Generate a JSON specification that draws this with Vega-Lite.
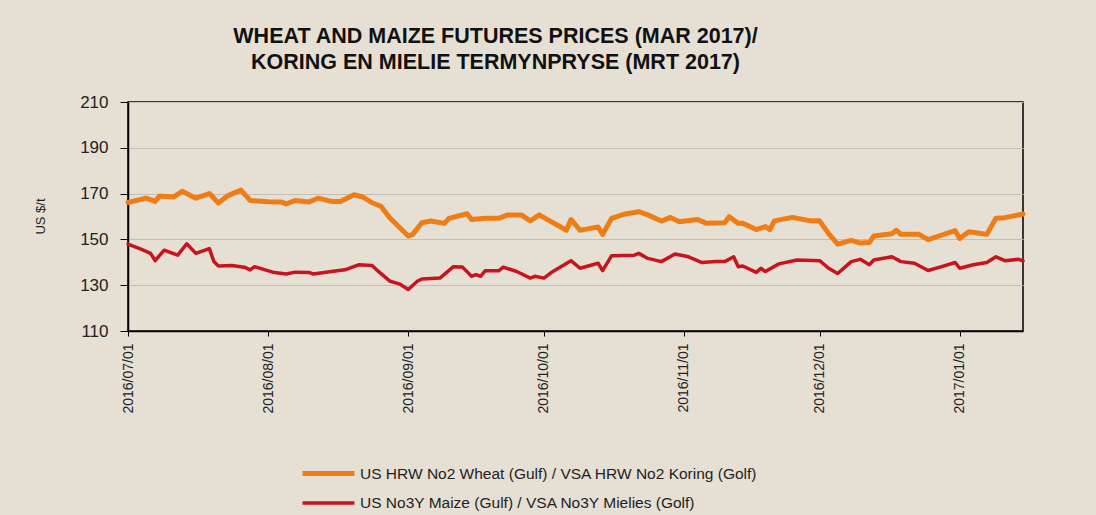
{
  "$schema": "https://vega.github.io/schema/vega-lite/v6.json",
  "width": 895,
  "height": 229,
  "autosize": {"type": "none"},
  "padding": {"left": 128, "top": 102, "right": 73, "bottom": 184},
  "background": "#e6e0d4",
  "title": {
    "text": ["WHEAT AND MAIZE FUTURES PRICES (MAR 2017)/", "KORING EN MIELIE TERMYNPRYSE  (MRT 2017)"],
    "font": "Liberation Sans",
    "fontSize": 21.5,
    "fontWeight": "bold",
    "color": "#111111",
    "anchor": "middle",
    "dx": -80,
    "offset": 20,
    "lineHeight": 26
  },
  "data": {
    "values": [
      {"series": "wheat", "date": "2016-07-01", "price": 166.1},
      {"series": "wheat", "date": "2016-07-05", "price": 168},
      {"series": "wheat", "date": "2016-07-07", "price": 166.6},
      {"series": "wheat", "date": "2016-07-08", "price": 169},
      {"series": "wheat", "date": "2016-07-11", "price": 168.5},
      {"series": "wheat", "date": "2016-07-13", "price": 171},
      {"series": "wheat", "date": "2016-07-16", "price": 168},
      {"series": "wheat", "date": "2016-07-19", "price": 170},
      {"series": "wheat", "date": "2016-07-21", "price": 165.9},
      {"series": "wheat", "date": "2016-07-23", "price": 169},
      {"series": "wheat", "date": "2016-07-26", "price": 171.5},
      {"series": "wheat", "date": "2016-07-28", "price": 167},
      {"series": "wheat", "date": "2016-08-01", "price": 166.4},
      {"series": "wheat", "date": "2016-08-04", "price": 166.3},
      {"series": "wheat", "date": "2016-08-05", "price": 165.5},
      {"series": "wheat", "date": "2016-08-07", "price": 167},
      {"series": "wheat", "date": "2016-08-10", "price": 166.3},
      {"series": "wheat", "date": "2016-08-12", "price": 168},
      {"series": "wheat", "date": "2016-08-15", "price": 166.6},
      {"series": "wheat", "date": "2016-08-17", "price": 166.6},
      {"series": "wheat", "date": "2016-08-20", "price": 169.5},
      {"series": "wheat", "date": "2016-08-22", "price": 168.5},
      {"series": "wheat", "date": "2016-08-24", "price": 166},
      {"series": "wheat", "date": "2016-08-26", "price": 164.4},
      {"series": "wheat", "date": "2016-08-28", "price": 159.2},
      {"series": "wheat", "date": "2016-09-01", "price": 151.5},
      {"series": "wheat", "date": "2016-09-02", "price": 152.2},
      {"series": "wheat", "date": "2016-09-04", "price": 157.3},
      {"series": "wheat", "date": "2016-09-06", "price": 158},
      {"series": "wheat", "date": "2016-09-09", "price": 157},
      {"series": "wheat", "date": "2016-09-10", "price": 159.2},
      {"series": "wheat", "date": "2016-09-14", "price": 161.2},
      {"series": "wheat", "date": "2016-09-15", "price": 158.7},
      {"series": "wheat", "date": "2016-09-18", "price": 159.2},
      {"series": "wheat", "date": "2016-09-21", "price": 159.2},
      {"series": "wheat", "date": "2016-09-23", "price": 160.7},
      {"series": "wheat", "date": "2016-09-26", "price": 160.7},
      {"series": "wheat", "date": "2016-09-28", "price": 158.1},
      {"series": "wheat", "date": "2016-09-30", "price": 160.7},
      {"series": "wheat", "date": "2016-10-02", "price": 158.4},
      {"series": "wheat", "date": "2016-10-06", "price": 154},
      {"series": "wheat", "date": "2016-10-07", "price": 158.7},
      {"series": "wheat", "date": "2016-10-09", "price": 154},
      {"series": "wheat", "date": "2016-10-11", "price": 154.7},
      {"series": "wheat", "date": "2016-10-13", "price": 155.4},
      {"series": "wheat", "date": "2016-10-14", "price": 152.2},
      {"series": "wheat", "date": "2016-10-16", "price": 159.2},
      {"series": "wheat", "date": "2016-10-19", "price": 161.1},
      {"series": "wheat", "date": "2016-10-22", "price": 162.1},
      {"series": "wheat", "date": "2016-10-24", "price": 160.7},
      {"series": "wheat", "date": "2016-10-27", "price": 158},
      {"series": "wheat", "date": "2016-10-29", "price": 159.6},
      {"series": "wheat", "date": "2016-10-31", "price": 157.7},
      {"series": "wheat", "date": "2016-11-04", "price": 158.7},
      {"series": "wheat", "date": "2016-11-06", "price": 157},
      {"series": "wheat", "date": "2016-11-10", "price": 157.3},
      {"series": "wheat", "date": "2016-11-11", "price": 159.9},
      {"series": "wheat", "date": "2016-11-13", "price": 157},
      {"series": "wheat", "date": "2016-11-14", "price": 157},
      {"series": "wheat", "date": "2016-11-17", "price": 154.3},
      {"series": "wheat", "date": "2016-11-19", "price": 155.6},
      {"series": "wheat", "date": "2016-11-20", "price": 154.3},
      {"series": "wheat", "date": "2016-11-21", "price": 158.1},
      {"series": "wheat", "date": "2016-11-25", "price": 159.6},
      {"series": "wheat", "date": "2016-11-29", "price": 158.1},
      {"series": "wheat", "date": "2016-12-01", "price": 158.1},
      {"series": "wheat", "date": "2016-12-03", "price": 152.5},
      {"series": "wheat", "date": "2016-12-05", "price": 147.9},
      {"series": "wheat", "date": "2016-12-08", "price": 149.6},
      {"series": "wheat", "date": "2016-12-10", "price": 148.4},
      {"series": "wheat", "date": "2016-12-12", "price": 148.6},
      {"series": "wheat", "date": "2016-12-13", "price": 151.5},
      {"series": "wheat", "date": "2016-12-17", "price": 152.5},
      {"series": "wheat", "date": "2016-12-18", "price": 154},
      {"series": "wheat", "date": "2016-12-19", "price": 152.2},
      {"series": "wheat", "date": "2016-12-23", "price": 152.2},
      {"series": "wheat", "date": "2016-12-25", "price": 149.9},
      {"series": "wheat", "date": "2016-12-28", "price": 151.9},
      {"series": "wheat", "date": "2016-12-31", "price": 153.8},
      {"series": "wheat", "date": "2017-01-01", "price": 150.4},
      {"series": "wheat", "date": "2017-01-03", "price": 153.3},
      {"series": "wheat", "date": "2017-01-05", "price": 152.8},
      {"series": "wheat", "date": "2017-01-07", "price": 152.2},
      {"series": "wheat", "date": "2017-01-09", "price": 159.2},
      {"series": "wheat", "date": "2017-01-11", "price": 159.5},
      {"series": "wheat", "date": "2017-01-15", "price": 161.1},
      {"series": "maize", "date": "2016-07-01", "price": 147.9},
      {"series": "maize", "date": "2016-07-04", "price": 145.6},
      {"series": "maize", "date": "2016-07-06", "price": 143.9},
      {"series": "maize", "date": "2016-07-07", "price": 140.7},
      {"series": "maize", "date": "2016-07-09", "price": 145.3},
      {"series": "maize", "date": "2016-07-12", "price": 143.1},
      {"series": "maize", "date": "2016-07-14", "price": 148.1},
      {"series": "maize", "date": "2016-07-16", "price": 143.9},
      {"series": "maize", "date": "2016-07-19", "price": 146},
      {"series": "maize", "date": "2016-07-20", "price": 140.3},
      {"series": "maize", "date": "2016-07-21", "price": 138.4},
      {"series": "maize", "date": "2016-07-24", "price": 138.6},
      {"series": "maize", "date": "2016-07-27", "price": 137.7},
      {"series": "maize", "date": "2016-07-28", "price": 136.7},
      {"series": "maize", "date": "2016-07-29", "price": 138.1},
      {"series": "maize", "date": "2016-08-02", "price": 135.7},
      {"series": "maize", "date": "2016-08-05", "price": 134.9},
      {"series": "maize", "date": "2016-08-07", "price": 135.7},
      {"series": "maize", "date": "2016-08-10", "price": 135.6},
      {"series": "maize", "date": "2016-08-11", "price": 134.9},
      {"series": "maize", "date": "2016-08-15", "price": 136},
      {"series": "maize", "date": "2016-08-18", "price": 136.7},
      {"series": "maize", "date": "2016-08-21", "price": 138.9},
      {"series": "maize", "date": "2016-08-24", "price": 138.6},
      {"series": "maize", "date": "2016-08-25", "price": 136.7},
      {"series": "maize", "date": "2016-08-28", "price": 131.7},
      {"series": "maize", "date": "2016-08-30", "price": 130.6},
      {"series": "maize", "date": "2016-09-01", "price": 128.1},
      {"series": "maize", "date": "2016-09-03", "price": 131.7},
      {"series": "maize", "date": "2016-09-04", "price": 132.7},
      {"series": "maize", "date": "2016-09-08", "price": 133.1},
      {"series": "maize", "date": "2016-09-11", "price": 138.1},
      {"series": "maize", "date": "2016-09-13", "price": 137.9},
      {"series": "maize", "date": "2016-09-15", "price": 133.9},
      {"series": "maize", "date": "2016-09-16", "price": 134.6},
      {"series": "maize", "date": "2016-09-17", "price": 133.9},
      {"series": "maize", "date": "2016-09-18", "price": 136.3},
      {"series": "maize", "date": "2016-09-21", "price": 136.3},
      {"series": "maize", "date": "2016-09-22", "price": 137.9},
      {"series": "maize", "date": "2016-09-25", "price": 136},
      {"series": "maize", "date": "2016-09-28", "price": 133.1},
      {"series": "maize", "date": "2016-09-29", "price": 133.9},
      {"series": "maize", "date": "2016-10-01", "price": 133.1},
      {"series": "maize", "date": "2016-10-03", "price": 136},
      {"series": "maize", "date": "2016-10-07", "price": 140.7},
      {"series": "maize", "date": "2016-10-09", "price": 137.4},
      {"series": "maize", "date": "2016-10-13", "price": 139.6},
      {"series": "maize", "date": "2016-10-14", "price": 136.4},
      {"series": "maize", "date": "2016-10-16", "price": 142.9},
      {"series": "maize", "date": "2016-10-21", "price": 143.1},
      {"series": "maize", "date": "2016-10-22", "price": 143.9},
      {"series": "maize", "date": "2016-10-24", "price": 141.7},
      {"series": "maize", "date": "2016-10-27", "price": 140.3},
      {"series": "maize", "date": "2016-10-30", "price": 143.6},
      {"series": "maize", "date": "2016-11-02", "price": 142.4},
      {"series": "maize", "date": "2016-11-05", "price": 139.9},
      {"series": "maize", "date": "2016-11-08", "price": 140.3},
      {"series": "maize", "date": "2016-11-10", "price": 140.3},
      {"series": "maize", "date": "2016-11-12", "price": 142.4},
      {"series": "maize", "date": "2016-11-13", "price": 138.1},
      {"series": "maize", "date": "2016-11-14", "price": 138.4},
      {"series": "maize", "date": "2016-11-17", "price": 135.6},
      {"series": "maize", "date": "2016-11-18", "price": 137.4},
      {"series": "maize", "date": "2016-11-19", "price": 136},
      {"series": "maize", "date": "2016-11-22", "price": 139.3},
      {"series": "maize", "date": "2016-11-26", "price": 141},
      {"series": "maize", "date": "2016-12-01", "price": 140.7},
      {"series": "maize", "date": "2016-12-03", "price": 137.4},
      {"series": "maize", "date": "2016-12-05", "price": 135.1},
      {"series": "maize", "date": "2016-12-08", "price": 140.3},
      {"series": "maize", "date": "2016-12-10", "price": 141.3},
      {"series": "maize", "date": "2016-12-12", "price": 138.9},
      {"series": "maize", "date": "2016-12-13", "price": 141},
      {"series": "maize", "date": "2016-12-17", "price": 142.4},
      {"series": "maize", "date": "2016-12-19", "price": 140.3},
      {"series": "maize", "date": "2016-12-22", "price": 139.6},
      {"series": "maize", "date": "2016-12-25", "price": 136.4},
      {"series": "maize", "date": "2016-12-28", "price": 138.1},
      {"series": "maize", "date": "2016-12-31", "price": 139.9},
      {"series": "maize", "date": "2017-01-01", "price": 137.4},
      {"series": "maize", "date": "2017-01-04", "price": 138.9},
      {"series": "maize", "date": "2017-01-07", "price": 139.9},
      {"series": "maize", "date": "2017-01-09", "price": 142.4},
      {"series": "maize", "date": "2017-01-11", "price": 140.7},
      {"series": "maize", "date": "2017-01-14", "price": 141.3},
      {"series": "maize", "date": "2017-01-15", "price": 140.6}
    ]
  },
  "mark": {"type": "line", "interpolate": "linear", "strokeCap": "round", "strokeJoin": "round"},
  "encoding": {
    "x": {
      "field": "date",
      "type": "temporal",
      "scale": {
        "type": "utc",
        "domain": [
          {"year": 2016, "month": 7, "date": 1, "utc": true},
          {"year": 2017, "month": 1, "date": 15, "utc": true}
        ]
      },
      "axis": {
        "title": null,
        "format": "%Y/%m/%d",
        "tickCount": {"interval": "month", "step": 1},
        "labelAngle": 270,
        "labelFontSize": 14,
        "labelColor": "#222222",
        "labelPadding": 7,
        "tickSize": 5,
        "tickColor": "#000000",
        "domainColor": "#000000",
        "domainWidth": 1.5,
        "grid": false,
        "labelFlush": false,
        "labelOverlap": false
      }
    },
    "y": {
      "field": "price",
      "type": "quantitative",
      "scale": {"domain": [110, 210], "nice": false, "zero": false},
      "axis": {
        "values": [110, 130, 150, 170, 190, 210],
        "title": "US $/t",
        "titleFontSize": 13,
        "titleFontWeight": "normal",
        "titleColor": "#222222",
        "titleAngle": 270,
        "titleX": -88,
        "titleY": 114,
        "titleAlign": "center",
        "titleBaseline": "middle",
        "labelFontSize": 17,
        "labelColor": "#222222",
        "labelPadding": 12,
        "tickSize": 8,
        "tickColor": "#000000",
        "domainColor": "#000000",
        "domainWidth": 1.5,
        "grid": true,
        "gridColor": "#c4bfb5",
        "gridWidth": 1
      }
    },
    "color": {
      "field": "series",
      "type": "nominal",
      "scale": {"domain": ["wheat", "maize"], "range": ["#ef7d16", "#c8141c"]},
      "legend": {
        "title": null,
        "orient": "none",
        "legendX": 183,
        "legendY": 354,
        "direction": "vertical",
        "symbolType": "M-1.73,0H1.73",
        "symbolSize": 900,
        "labelFontSize": 15.5,
        "labelColor": "#222222",
        "labelOffset": 14,
        "rowPadding": 2,
        "labelLimit": 600,
        "labelExpr": "datum.label == 'wheat' ? 'US HRW No2 Wheat (Gulf) / VSA HRW No2 Koring (Golf)' : 'US No3Y Maize (Gulf) / VSA No3Y Mielies (Golf)'"
      }
    },
    "strokeWidth": {
      "field": "series",
      "type": "nominal",
      "scale": {"domain": ["wheat", "maize"], "range": [5, 3.5]},
      "legend": {
        "title": null,
        "orient": "none",
        "legendX": 183,
        "legendY": 354,
        "direction": "vertical",
        "symbolType": "M-1.73,0H1.73",
        "symbolSize": 900,
        "labelFontSize": 15.5,
        "labelColor": "#222222",
        "labelOffset": 14,
        "rowPadding": 2,
        "labelLimit": 600,
        "labelExpr": "datum.label == 'wheat' ? 'US HRW No2 Wheat (Gulf) / VSA HRW No2 Koring (Golf)' : 'US No3Y Maize (Gulf) / VSA No3Y Mielies (Golf)'"
      }
    }
  },
  "config": {
    "font": "Liberation Sans",
    "view": {"stroke": "#000000", "strokeWidth": 1.5},
    "axis": {"labelFont": "Liberation Sans", "titleFont": "Liberation Sans"},
    "legend": {"labelFont": "Liberation Sans"}
  }
}
